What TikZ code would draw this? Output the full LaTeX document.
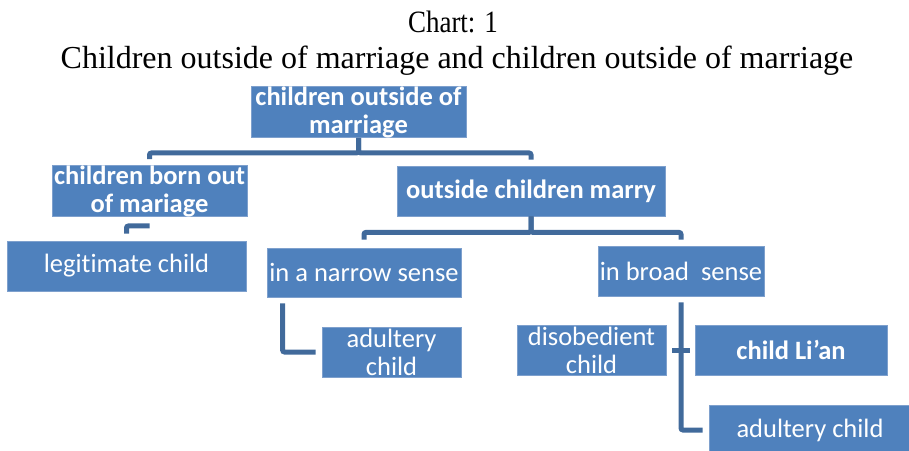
\documentclass[tikz,border=0pt]{standalone}
\usepackage{fontspec}
\setmainfont{Liberation Serif}
\newfontfamily\boxfont[RawFeature=-liga]{Carlito}
\usetikzlibrary{positioning,calc}

\definecolor{boxblue}{RGB}{79,129,189}
\definecolor{boxedge}{RGB}{126,160,205}
\definecolor{linkblue}{RGB}{65,106,155}

\tikzset{
  chart/.style={
    box/.style={rectangle,fill=boxblue,draw=boxedge,line width=0.8pt,
      text=white,font=\boxfont\fontsize{26.5}{28}\selectfont,
      align=center,inner sep=0pt},
    boldbox/.style={box,font=\boxfont\bfseries\fontsize{26.5}{28}\selectfont},
    conn/.style={draw=linkblue,line width=5pt,rounded corners=2pt},
  }
}

\begin{document}
\begin{tikzpicture}[x=1pt, y=-1pt, chart]
    \useasboundingbox (0,0) rectangle (909,450);

    % title
    \node[anchor=base, xscale=0.87, transform shape] (T1) at (453,32) {\fontsize{31}{31}\selectfont Chart: 1};
    \node[anchor=base] (T2) at (457,68) {\fontsize{32}{32}\selectfont Children outside of marriage and children outside of marriage};

    % boxes
    \node[boldbox, minimum width=215, minimum height=50] (top) at (358.5,112) {children outside of\\marriage};
    \node[boldbox, minimum width=195, minimum height=50] (born) at (149.5,191) {children born out\\of mariage};
    \node[boldbox, minimum width=268, minimum height=50] (marry) at (531,191) {outside children marry};
    \node[box, minimum width=239, minimum height=50] (legit) at (126.5,266) {legitimate child};
    \node[box, minimum width=194, minimum height=49] (narrow) at (364,272.5) {in a narrow sense};
    \node[box, minimum width=166, minimum height=50] (broad) at (681,271) {in broad\ \ sense};
    \node[box, minimum width=139, minimum height=50] (adult1) at (391.5,352) {adultery\\child};
    \node[box, minimum width=149, minimum height=50] (disob) at (591.5,350) {disobedient\\child};
    \node[boldbox, minimum width=192, minimum height=50] (lian) at (791,350) {child Li’an};
    \node[box, minimum width=202, minimum height=50] (adult2) at (810,430) {adultery child};

    % connectors
    \draw[conn] (top.south) -- ++(0,15) -| ([yshift=6pt]born.north);
    \draw[conn] (top.south) -- ++(0,15) -| ([yshift=6pt]marry.north);
    \draw[conn] ([yshift=-9pt]born.south) -| ([yshift=7pt]legit.north);
    \draw[conn] (marry.south) -- ++(0,16) -| ([yshift=8pt]narrow.north);
    \draw[conn] (marry.south) -- ++(0,16) -| ([yshift=6pt]broad.north);
    \draw[conn] ([xshift=16pt,yshift=-6pt]narrow.south west) |- ([xshift=-6pt]adult1.west);
    \draw[conn] ([yshift=-6pt]broad.south) |- ([xshift=-6pt]adult2.west);
    \draw[conn] ([xshift=6pt]disob.east) -- ([xshift=-5pt]lian.west);
\end{tikzpicture}
\end{document}
